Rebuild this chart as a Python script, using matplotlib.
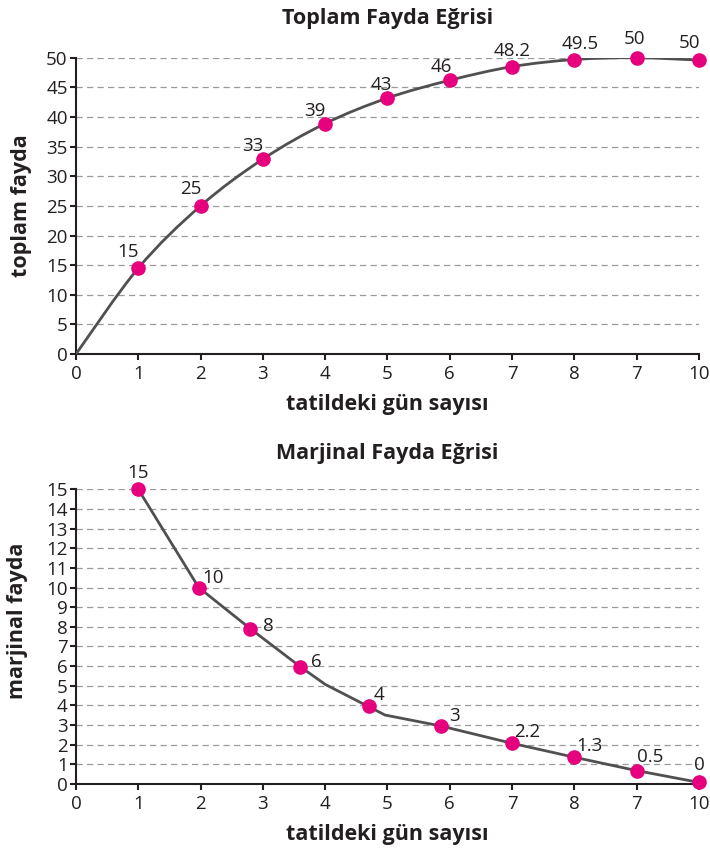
import numpy as np
import matplotlib
matplotlib.use("Agg")
import matplotlib.pyplot as plt
from matplotlib.path import Path
from matplotlib.patches import PathPatch

# Toplam fayda (total utility)
days = [1, 2, 3, 4, 5, 6, 7, 8, 9, 10]
total_utility = [14.5, 25, 32.9, 38.9, 43.2, 46.2, 48.5, 49.7, 50.0, 49.6]
total_labels = ["15", "25", "33", "39", "43", "46", "48.2", "49.5", "50", "50"]

# Marjinal fayda (marginal utility) - markers
marg_days = [1, 1.97, 2.8, 3.6, 4.7, 5.86, 7, 8, 9, 10]
marg_utility = [15, 10, 7.9, 5.97, 3.97, 2.95, 2.07, 1.36, 0.68, 0.08]
marg_labels = ["15", "10", "8", "6", "4", "3", "2.2", "1.3", "0.5", "0"]
# line vertices of the marginal curve (has two bends without markers)
marg_line_x = [1, 1.97, 2.8, 3.6, 4.0, 4.96, 5.86, 7, 8, 9, 10]
marg_line_y = [15, 10, 7.9, 5.97, 5.07, 3.51, 2.95, 2.07, 1.36, 0.68, 0.08]

x_ticks = list(range(11))
x_tick_labels = ["0", "1", "2", "3", "4", "5", "6", "7", "8", "7", "10"]

# label offsets in pixels (layout only)
top_offsets = [(-10, 16), (-10, 17), (-10, 13), (-10, 13), (-6, 13), (-8, 13),
               (0, 16), (6, 16), (-2, 19), (-9, 17)]
bot_offsets = [(0, 16), (14, 10), (18, 3), (16, 5), (10, 11), (13, 10),
               (15, 11), (15, 11), (13, 14), (0, 17)]

plt.rcParams['font.family'] = ['Open Sans', 'DejaVu Sans']
TXT = '#231f20'
PINK = '#e6007e'
LINE = '#505050'


def smooth_path(xs, ys):
    # Catmull-Rom through the points, drawn as cubic bezier segments
    pts = np.column_stack([xs, ys]).astype(float)
    ext = np.vstack([pts[0], pts, pts[-1]])
    verts = [pts[0]]
    codes = [Path.MOVETO]
    for i in range(1, len(ext) - 2):
        p0, p1, p2, p3 = ext[i - 1], ext[i], ext[i + 1], ext[i + 2]
        verts += [p1 + (p2 - p0) / 6, p2 - (p3 - p1) / 6, p2]
        codes += [Path.CURVE4] * 3
    return Path(verts, codes)


def style_axes(ax, ymax, ystep):
    ax.set_xlim(0, 10)
    ax.set_ylim(0, ymax)
    ax.set_xticks(x_ticks)
    ax.set_xticklabels(x_tick_labels)
    ax.set_yticks(np.arange(0, ymax + ystep / 2, ystep))
    for s in ['top', 'right']:
        ax.spines[s].set_visible(False)
    for s in ['left', 'bottom']:
        ax.spines[s].set_linewidth(1.5)
        ax.spines[s].set_color(TXT)
    ax.yaxis.grid(True, linestyle=(0, (5, 3.4)), color='#9a9a9a', linewidth=0.9)
    ax.set_axisbelow(True)
    ax.tick_params(direction='out', length=4, width=1.5, color=TXT,
                   labelsize=13.5, labelcolor=TXT)
    ax.tick_params(axis='x', pad=4)
    ax.tick_params(axis='y', pad=2)
    ax.set_xlabel('tatildeki gün sayısı', fontsize=15.5, fontweight='bold',
                  color=TXT, labelpad=8)


fig = plt.figure(figsize=(7.1, 8.48), dpi=100)

# top chart
ax1 = fig.add_axes([0.107, 0.5825, 0.8775, 0.3494])
style_axes(ax1, 50, 5)
ax1.add_patch(PathPatch(smooth_path([0] + days, [0] + total_utility),
                        facecolor='none', edgecolor=LINE, lw=2, zorder=3))
ax1.plot(days, total_utility, 'o', color=PINK, ms=9.5, clip_on=False, zorder=5)
for x, y, t, off in zip(days, total_utility, total_labels, top_offsets):
    ax1.annotate(t, (x, y), xytext=off, textcoords='offset pixels',
                 ha='center', va='center', fontsize=13.5, color=TXT)
ax1.set_ylabel('toplam fayda', fontsize=15.5, fontweight='bold', color=TXT, labelpad=10)
ax1.set_title('Toplam Fayda Eğrisi', fontsize=15.5, fontweight='bold', color=TXT, pad=24)

# bottom chart
ax2 = fig.add_axes([0.107, 0.0755, 0.8775, 0.3475])
style_axes(ax2, 15, 1)
ax2.plot(marg_line_x, marg_line_y, '-', color=LINE, lw=2, zorder=3)
ax2.plot(marg_days, marg_utility, 'o', color=PINK, ms=9.5, clip_on=False, zorder=5)
for x, y, t, off in zip(marg_days, marg_utility, marg_labels, bot_offsets):
    ax2.annotate(t, (x, y), xytext=off, textcoords='offset pixels',
                 ha='center', va='center', fontsize=13.5, color=TXT)
ax2.set_ylabel('marjinal fayda', fontsize=15.5, fontweight='bold', color=TXT, labelpad=10)
ax2.yaxis.set_label_coords(-0.077, 0.555)
ax2.set_title('Marjinal Fayda Eğrisi', fontsize=15.5, fontweight='bold', color=TXT, pad=22)

fig.savefig('out.png', dpi=100)
